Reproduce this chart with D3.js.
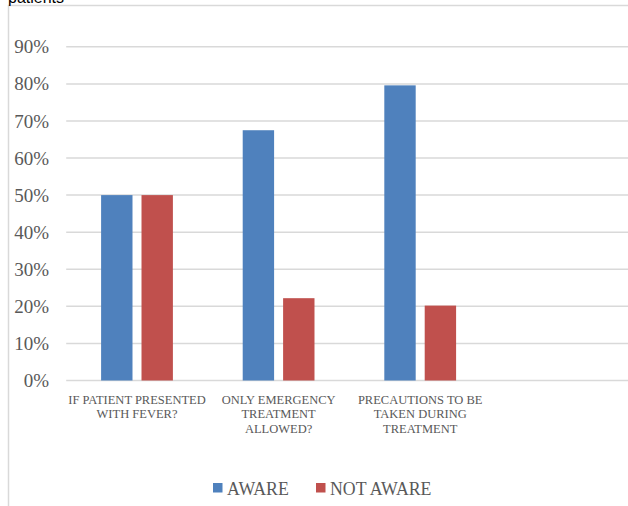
<!DOCTYPE html>
<html>
<head>
<meta charset="utf-8">
<script src="https://cdn.jsdelivr.net/npm/d3@7"></script>
<style>
  html, body { margin: 0; padding: 0; background: #fff; }
  svg { display: block; }
</style>
</head>
<body>
<div id="chart"></div>
<script>
const categories = ["IF PATIENT PRESENTED\nWITH FEVER?", "ONLY EMERGENCY\nTREATMENT\nALLOWED?", "PRECAUTIONS TO BE\nTAKEN DURING\nTREATMENT", ""];
const seriesNames = ["AWARE", "NOT AWARE"];
const aware = [0.50, 0.675, 0.796, null];
const notAware = [0.50, 0.222, 0.202, null];
const tickValues = [0, 0.1, 0.2, 0.3, 0.4, 0.5, 0.6, 0.7, 0.8, 0.9];
const colors = ["#4F81BD", "#C0504D"];
const titleFragment = "patients";

const W = 628, H = 506;
const svg = d3.select("#chart").append("svg").attr("width", W).attr("height", H);

// chart frame
svg.append("rect").attr("x", 8.5).attr("y", 5.5).attr("width", W + 20).attr("height", H + 20)
  .attr("fill", "#fff").attr("stroke", "#d9d9d9").attr("stroke-width", 1.5);

// cut-off title text above frame
svg.append("text").attr("x", 8).attr("y", 2.5).text(titleFragment)
  .attr("font-family", "Liberation Sans, Arial, sans-serif").attr("font-size", 16).attr("fill", "#000");

const y = d3.scaleLinear().domain([0, 0.9]).range([380.5, 46.8]);
const x = d3.scaleBand().domain(categories).range([66.2, 632.6]).paddingInner(0).paddingOuter(0);
const xs = d3.scaleBand().domain(seriesNames).range([0, x.bandwidth()]).paddingInner(0.223).paddingOuter(0.864);

// gridlines
svg.append("g").selectAll("line").data(tickValues).join("line")
  .attr("x1", 66.2).attr("x2", W + 10)
  .attr("y1", d => y(d)).attr("y2", d => y(d))
  .attr("stroke", "#d9d9d9").attr("stroke-width", 1.5);

// y axis labels
const yAxis = svg.append("g").attr("transform", "translate(49,0)")
  .call(d3.axisLeft(y).tickValues(tickValues).tickSize(0).tickPadding(0).tickFormat(d3.format(".0%")));
yAxis.select(".domain").remove();
yAxis.selectAll("text").attr("font-family", "Liberation Serif, 'Times New Roman', serif")
  .attr("font-size", 19).attr("fill", "#595959");

// bars
const data = categories.map((c, i) => ({ c, vals: [aware[i], notAware[i]] }));
const groups = svg.append("g").selectAll("g").data(data).join("g")
  .attr("transform", d => `translate(${x(d.c)},0)`);
groups.selectAll("rect").data(d => d.vals.map((v, j) => ({ v, s: seriesNames[j], j })).filter(e => e.v != null))
  .join("rect")
  .attr("x", d => xs(d.s)).attr("width", xs.bandwidth())
  .attr("y", d => y(d.v)).attr("height", d => y(0) - y(d.v))
  .attr("fill", d => colors[d.j]);

// x axis labels
const xAxis = svg.append("g").attr("transform", "translate(0,380.5)")
  .call(d3.axisBottom(x).tickSize(0).tickFormat(""));
xAxis.select(".domain").remove();
xAxis.selectAll(".tick").each(function(d) {
  const lines = d.split("\n").filter(s => s.length);
  const t = d3.select(this).append("text")
    .attr("text-anchor", "middle")
    .attr("font-family", "Liberation Serif, 'Times New Roman', serif")
    .attr("font-size", 12.5).attr("fill", "#595959");
  lines.forEach((ln, k) => t.append("tspan").attr("x", 0).attr("y", 23 + k * 14.5).text(ln));
});

// legend
const legend = svg.append("g").attr("font-family", "Liberation Serif, 'Times New Roman', serif")
  .attr("font-size", 17.8).attr("fill", "#595959");
const legendX = [213, 316];
seriesNames.forEach((s, i) => {
  legend.append("rect").attr("x", legendX[i]).attr("y", 483).attr("width", 9.5).attr("height", 9.5).attr("fill", colors[i]);
  legend.append("text").attr("x", legendX[i] + 14).attr("y", 494.5).text(s);
});
</script>
</body>
</html>
